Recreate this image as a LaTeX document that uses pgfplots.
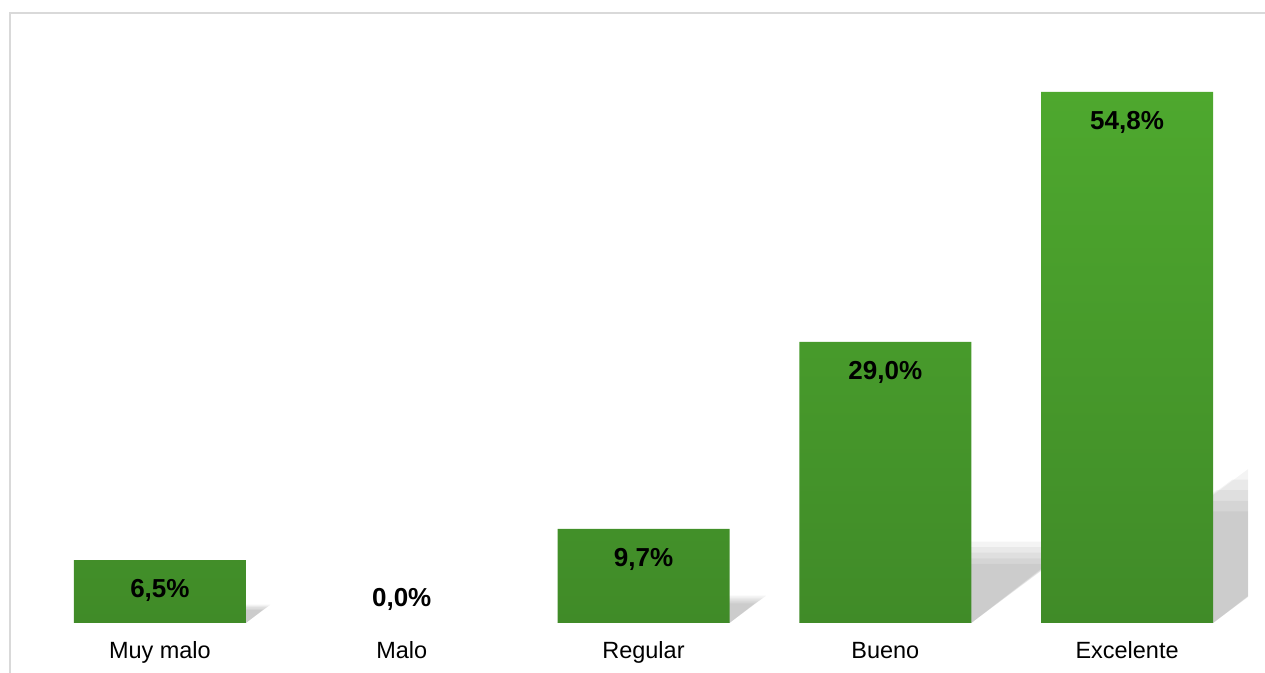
\documentclass[border=0pt]{standalone}
\usepackage{pgfplots}
\pgfplotsset{compat=1.18}
\usepackage{fontspec}
\setmainfont{Liberation Sans}
\definecolor{bartop}{RGB}{78,168,46}
\definecolor{barbot}{RGB}{64,139,40}
\definecolor{framec}{RGB}{217,217,217}
\pgfplotstableread{
x y
0 6.5
2 9.7
3 29.0
4 54.8
}\bars
\begin{document}
\begin{tikzpicture}
\path[use as bounding box] (-29.25pt,-37.5pt) rectangle (919.5pt,467.25pt);
\draw[framec, line width=1.5pt] (-21.75pt,-40pt) -- (-21.75pt,457.5pt) -- (925pt,457.5pt);
\begin{axis}[
  at={(0pt,0pt)}, anchor=south west,
  scale only axis, width=906.75pt, height=436.05pt,
  xmin=-0.5, xmax=4.5, ymin=0, ymax=60,
  axis x line*=bottom, x axis line style={draw=none},
  hide y axis,
  xtick={0,1,2,3,4},
  xticklabels={Muy malo, Malo, Regular, Bueno, Excelente},
  major tick length=0pt,
  xticklabel style={font=\fontsize{17.6}{20}\selectfont, text=black, anchor=base, yshift=-26.5pt},
  shadowbar/.style={ybar, bar shift=0pt, bar width=129pt, fill=black, fill opacity=0.045, draw=none},
  /pgf/number format/assume math mode=true,
  /pgf/number format/.cd, fixed, fixed zerofill, precision=1, use comma,
  /pgfplots/.cd,
]
% shadows (soft, several layers)
\addplot[shadowbar, cm={1,0,0.39,0.29,(0pt,0pt)}] table[x=x,y=y] {\bars};
\addplot[shadowbar, cm={1,0,0.36,0.27,(0pt,0pt)}] table[x=x,y=y] {\bars};
\addplot[shadowbar, cm={1,0,0.33,0.25,(0pt,0pt)}] table[x=x,y=y] {\bars};
\addplot[shadowbar, cm={1,0,0.30,0.23,(0pt,0pt)}] table[x=x,y=y] {\bars};
\addplot[shadowbar, cm={1,0,0.27,0.21,(0pt,0pt)}] table[x=x,y=y] {\bars};
% bars
\addplot[ybar, bar shift=0pt, bar width=129pt, draw=none, top color=bartop, bottom color=barbot,
  nodes near coords={\pgfmathprintnumber{\pgfplotspointmeta}\%},
  nodes near coords style={font=\bfseries\fontsize{19.5}{22}\selectfont, text=black, anchor=center, yshift=-23pt}]
  table[x=x,y=y] {\bars};
\addplot[ybar, bar shift=0pt, bar width=129pt, draw=none, fill=none,
  nodes near coords={\pgfmathprintnumber{\pgfplotspointmeta}\%},
  nodes near coords style={font=\bfseries\fontsize{19.5}{22}\selectfont, text=black, anchor=center, yshift=18pt}]
  coordinates {(1,0.0)};
\end{axis}
\end{tikzpicture}
\end{document}
